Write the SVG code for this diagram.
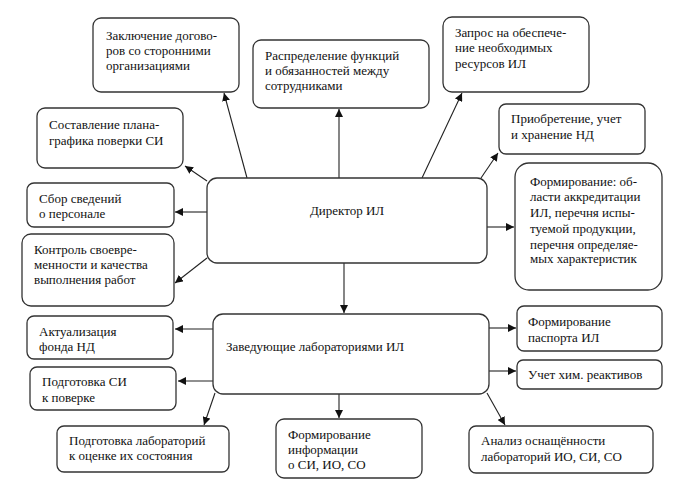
<svg xmlns="http://www.w3.org/2000/svg" width="691" height="492" viewBox="0 0 691 492">
<defs>
<marker id="ah" markerUnits="userSpaceOnUse" markerWidth="10" markerHeight="8" refX="8" refY="4" orient="auto">
<path d="M0,0 L8,4 L0,8 Z" fill="#111"/>
</marker>
</defs>
<rect width="691" height="492" fill="#fff"/>
<g id="connectors" stroke="#222" stroke-width="1.1" fill="none" marker-end="url(#ah)">
<line x1="247" y1="178" x2="224" y2="93"/>
<line x1="207" y1="181" x2="185" y2="166"/>
<line x1="207" y1="212" x2="175" y2="212"/>
<line x1="207" y1="258" x2="175" y2="283"/>
<line x1="339" y1="178" x2="339" y2="109"/>
<line x1="422" y1="178" x2="462" y2="93"/>
<line x1="481" y1="178" x2="498" y2="153"/>
<line x1="487" y1="227" x2="514" y2="227"/>
<line x1="344" y1="263" x2="344" y2="313"/>
<line x1="213" y1="329" x2="175" y2="329"/>
<line x1="213" y1="381" x2="178" y2="381"/>
<line x1="215" y1="393" x2="204" y2="425"/>
<line x1="339" y1="394" x2="339" y2="418"/>
<line x1="489" y1="328" x2="516" y2="328"/>
<line x1="489" y1="371" x2="516" y2="371"/>
<line x1="487" y1="393" x2="505" y2="425"/>
</g>
<g id="nodes" fill="#fff" stroke="#333" stroke-width="1.3">
<g id="director">
<rect x="207" y="178" width="280" height="85" rx="10"/>
<text font-family="Liberation Serif" font-size="13" fill="#111" stroke="none" x="347" y="215" text-anchor="middle">Директор ИЛ</text>
</g>
<g id="heads">
<rect x="213" y="314" width="276" height="80" rx="10"/>
<text font-family="Liberation Serif" font-size="13" fill="#111" stroke="none" x="226" y="351">Заведующие лабораториями ИЛ</text>
</g>
<g id="contracts">
<rect x="93" y="18" width="146" height="74" rx="8"/>
<text font-family="Liberation Serif" font-size="13" fill="#111" stroke="none" x="106" y="40">Заключение догово-</text>
<text font-family="Liberation Serif" font-size="13" fill="#111" stroke="none" x="106" y="55">ров со сторонними</text>
<text font-family="Liberation Serif" font-size="13" fill="#111" stroke="none" x="106" y="70">организациями</text>
</g>
<g id="plan">
<rect x="37" y="108" width="146" height="60" rx="8"/>
<text font-family="Liberation Serif" font-size="13" fill="#111" stroke="none" x="49" y="129">Составление плана-</text>
<text font-family="Liberation Serif" font-size="13" fill="#111" stroke="none" x="49" y="145">графика поверки СИ</text>
</g>
<g id="personnel">
<rect x="27" y="183" width="147" height="44" rx="7"/>
<text font-family="Liberation Serif" font-size="13" fill="#111" stroke="none" x="39" y="203">Сбор сведений</text>
<text font-family="Liberation Serif" font-size="13" fill="#111" stroke="none" x="39" y="218">о персонале</text>
</g>
<g id="control">
<rect x="22" y="234" width="152" height="72" rx="9"/>
<text font-family="Liberation Serif" font-size="13" fill="#111" stroke="none" x="34" y="254">Контроль своевре-</text>
<text font-family="Liberation Serif" font-size="13" fill="#111" stroke="none" x="34" y="269">менности и качества</text>
<text font-family="Liberation Serif" font-size="13" fill="#111" stroke="none" x="34" y="284">выполнения работ</text>
</g>
<g id="distribution">
<rect x="253" y="40" width="176" height="68" rx="8"/>
<text font-family="Liberation Serif" font-size="13" fill="#111" stroke="none" x="265" y="60">Распределение функций</text>
<text font-family="Liberation Serif" font-size="13" fill="#111" stroke="none" x="265" y="75">и обязанностей между</text>
<text font-family="Liberation Serif" font-size="13" fill="#111" stroke="none" x="265" y="90">сотрудниками</text>
</g>
<g id="request">
<rect x="443" y="17" width="146" height="75" rx="9"/>
<text font-family="Liberation Serif" font-size="13" fill="#111" stroke="none" x="455" y="37">Запрос на обеспече-</text>
<text font-family="Liberation Serif" font-size="13" fill="#111" stroke="none" x="455" y="52">ние необходимых</text>
<text font-family="Liberation Serif" font-size="13" fill="#111" stroke="none" x="455" y="68">ресурсов ИЛ</text>
</g>
<g id="acquisition">
<rect x="499" y="104" width="146" height="50" rx="7"/>
<text font-family="Liberation Serif" font-size="13" fill="#111" stroke="none" x="511" y="123">Приобретение, учет</text>
<text font-family="Liberation Serif" font-size="13" fill="#111" stroke="none" x="511" y="139">и хранение НД</text>
</g>
<g id="forming">
<rect x="515" y="163" width="147" height="127" rx="14"/>
<text font-family="Liberation Serif" font-size="13" fill="#111" stroke="none" x="530" y="186">Формирование: об-</text>
<text font-family="Liberation Serif" font-size="13" fill="#111" stroke="none" x="530" y="201">ласти аккредитации</text>
<text font-family="Liberation Serif" font-size="13" fill="#111" stroke="none" x="530" y="217">ИЛ, перечня испы-</text>
<text font-family="Liberation Serif" font-size="13" fill="#111" stroke="none" x="530" y="233">туемой продукции,</text>
<text font-family="Liberation Serif" font-size="13" fill="#111" stroke="none" x="530" y="249">перечня определяе-</text>
<text font-family="Liberation Serif" font-size="13" fill="#111" stroke="none" x="530" y="263">мых характеристик</text>
</g>
<g id="actualization">
<rect x="27" y="316" width="146" height="43" rx="7"/>
<text font-family="Liberation Serif" font-size="13" fill="#111" stroke="none" x="39" y="336">Актуализация</text>
<text font-family="Liberation Serif" font-size="13" fill="#111" stroke="none" x="39" y="351">фонда НД</text>
</g>
<g id="prep-si">
<rect x="30" y="367" width="146" height="43" rx="7"/>
<text font-family="Liberation Serif" font-size="13" fill="#111" stroke="none" x="42" y="386">Подготовка СИ</text>
<text font-family="Liberation Serif" font-size="13" fill="#111" stroke="none" x="42" y="402">к поверке</text>
</g>
<g id="prep-labs">
<rect x="57" y="426" width="172" height="46" rx="7"/>
<text font-family="Liberation Serif" font-size="13" fill="#111" stroke="none" x="69" y="445">Подготовка лабораторий</text>
<text font-family="Liberation Serif" font-size="13" fill="#111" stroke="none" x="69" y="460">к оценке их состояния</text>
</g>
<g id="info">
<rect x="276" y="419" width="146" height="59" rx="8"/>
<text font-family="Liberation Serif" font-size="13" fill="#111" stroke="none" x="288" y="439">Формирование</text>
<text font-family="Liberation Serif" font-size="13" fill="#111" stroke="none" x="288" y="454">информации</text>
<text font-family="Liberation Serif" font-size="13" fill="#111" stroke="none" x="288" y="469">о СИ, ИО, СО</text>
</g>
<g id="passport">
<rect x="517" y="306" width="145" height="45" rx="7"/>
<text font-family="Liberation Serif" font-size="13" fill="#111" stroke="none" x="528" y="326">Формирование</text>
<text font-family="Liberation Serif" font-size="13" fill="#111" stroke="none" x="528" y="342">паспорта ИЛ</text>
</g>
<g id="reagents">
<rect x="517" y="360" width="145" height="29" rx="6"/>
<text font-family="Liberation Serif" font-size="13" fill="#111" stroke="none" x="528" y="379">Учет хим. реактивов</text>
</g>
<g id="analysis">
<rect x="469" y="426" width="184" height="47" rx="7"/>
<text font-family="Liberation Serif" font-size="13" fill="#111" stroke="none" x="481" y="445">Анализ оснащённости</text>
<text font-family="Liberation Serif" font-size="13" fill="#111" stroke="none" x="481" y="461">лабораторий ИО, СИ, СО</text>
</g>
</g>
</svg>
